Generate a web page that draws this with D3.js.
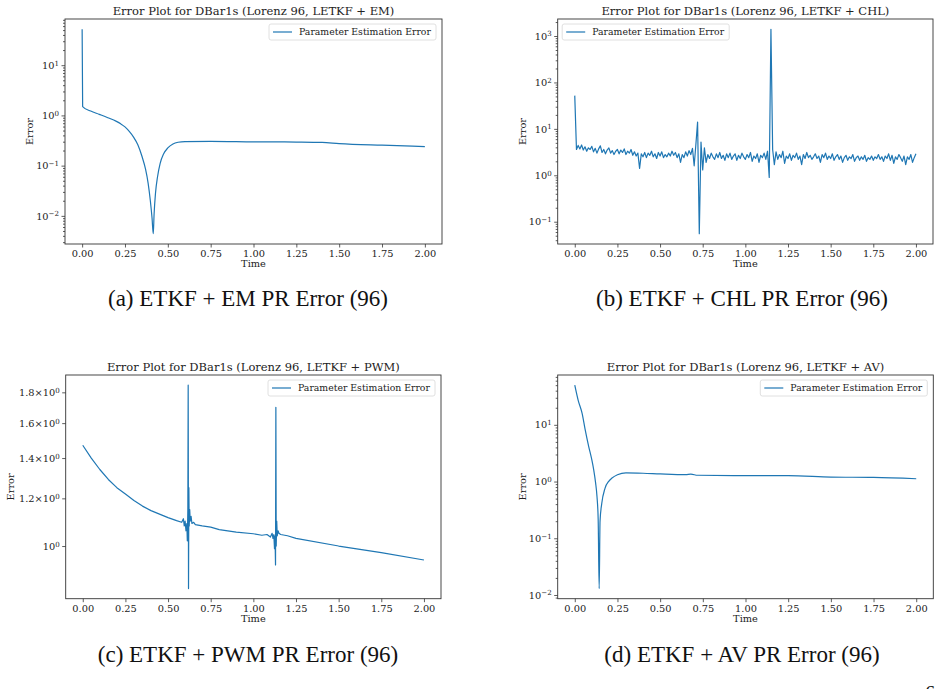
<!DOCTYPE html>
<html>
<head>
<meta charset="utf-8">
<script src="https://cdn.jsdelivr.net/npm/d3@7"></script>
<style>
  body { margin: 0; background: #fff; }
  svg { display: block; }
</style>
</head>
<body>
<div id="chart"></div>
<script>
// (a) LETKF + EM
const timeA = [0, 0.003, 0.05, 0.1, 0.15, 0.2, 0.225, 0.25, 0.275, 0.3, 0.325, 0.35, 0.37, 0.385, 0.398, 0.408, 0.415,
  0.42, 0.428, 0.44, 0.455, 0.475, 0.5, 0.53, 0.56, 0.6, 0.75, 1.0, 1.25, 1.4, 1.5, 1.75, 2.0];
const errA = [52, 1.5, 1.22, 1.05, 0.9, 0.76, 0.68, 0.59, 0.48, 0.37, 0.26, 0.15, 0.085, 0.045, 0.02, 0.009, 0.0044,
  0.011, 0.028, 0.06, 0.11, 0.17, 0.225, 0.27, 0.292, 0.302, 0.305, 0.298, 0.295, 0.29, 0.275, 0.255, 0.24];

// (b) LETKF + CHL, sampled every 0.01 from 0 to 2
const stepB = 0.01;
const errB = [
  52, 3.6, 4.4, 3.7, 4.5, 3.5, 4.1, 3.3, 3.9, 3.6,
  4.2, 3.2, 3.8, 3.0, 3.7, 4.3, 3.1, 3.6, 2.9, 3.5,
  3.9, 3.0, 3.4, 2.8, 3.3, 3.6, 2.9, 3.5, 3.1, 3.7,
  2.8, 3.3, 3.0, 3.6, 2.7, 3.2, 2.6, 3.0, 1.4, 2.9,
  2.5, 3.1, 2.4, 3.0, 2.7, 3.3, 2.5, 2.9, 2.3, 3.1,
  2.6, 3.2, 2.4, 2.8, 2.5, 3.0, 2.6, 3.3, 2.7, 3.1,
  2.4, 2.9, 1.9, 2.8, 2.4, 3.2, 2.6, 3.4, 2.8, 3.8,
  1.6, 4.6, 14, 0.055, 5.2, 1.3, 3.9, 1.9, 2.8, 2.3,
  3.0, 2.5, 2.2, 2.9, 2.4, 3.1, 2.3, 2.7, 2.1, 2.9,
  2.4, 3.0, 2.2, 2.6, 2.9, 2.1, 2.7, 2.3, 3.0, 2.5,
  2.2, 2.8, 2.4, 3.1, 2.0, 2.6, 2.3, 2.9, 1.9, 2.7,
  2.4, 3.0, 2.2, 3.3, 0.9, 1400, 3.6, 1.7, 3.2, 2.2,
  2.8, 2.4, 3.3, 1.8, 2.6, 2.3, 2.9, 2.1, 2.7, 2.4,
  3.0, 2.2, 2.6, 1.7, 2.8, 2.3, 3.1, 2.4, 2.7, 2.2,
  2.5, 2.9, 2.3, 2.6, 1.9, 2.8, 2.4, 3.0, 2.2, 2.6,
  2.3, 2.9, 2.1, 2.5, 2.8, 2.2, 2.6, 1.9, 2.4, 2.7,
  2.1, 2.5, 2.3, 2.8, 2.0, 2.4, 2.6, 2.1, 2.5, 2.2,
  2.7, 2.0, 2.4, 2.2, 2.6, 2.1, 2.5, 2.3, 2.8, 2.2,
  2.5, 2.0, 2.6, 2.3, 2.9, 2.1, 2.7, 1.8, 2.5, 2.2,
  2.8, 2.4, 2.0, 2.6, 1.7, 2.5, 2.2, 2.8, 1.9, 2.4,
  2.9
];
const timeB = errB.map((d, i) => +(i * stepB).toFixed(2));

// (c) LETKF + PWM
const timeC = [0, 0.05, 0.1, 0.15, 0.2, 0.25, 0.3, 0.35, 0.4, 0.45,
  0.5, 0.55, 0.58, 0.59, 0.595, 0.6, 0.605, 0.61, 0.613, 0.616,
  0.618, 0.62, 0.622, 0.624, 0.627, 0.63, 0.635, 0.64, 0.65, 0.66,
  0.7, 0.75, 0.8, 0.9, 1.0, 1.05, 1.08, 1.1, 1.11, 1.115,
  1.12, 1.124, 1.127, 1.13, 1.132, 1.134, 1.137, 1.14, 1.145, 1.15,
  1.16, 1.2, 1.25, 1.5, 1.75, 2.0];
const errC = [1.47, 1.40, 1.34, 1.29, 1.25, 1.22, 1.19, 1.165, 1.145, 1.13,
  1.115, 1.102, 1.095, 1.11, 1.08, 1.1, 1.06, 1.09, 1.02, 1.15,
  1.85, 0.85, 1.25, 1.08, 1.15, 1.1, 1.12, 1.09, 1.095, 1.085,
  1.08, 1.075, 1.065, 1.055, 1.048, 1.042, 1.045, 1.035, 1.05, 1.03,
  1.045, 0.99, 1.04, 0.93, 1.7, 1.0, 1.1, 1.04, 1.06, 1.05,
  1.045, 1.04, 1.03, 1.0, 0.975, 0.948];

// (d) LETKF + AV
const timeD = [0, 0.02, 0.043, 0.06, 0.082, 0.1, 0.111, 0.122, 0.13, 0.137, 0.143, 0.148, 0.158, 0.177, 0.2, 0.216, 0.25, 0.3, 0.4, 0.5, 0.65, 0.68, 0.72, 1.0, 1.25, 1.5, 1.75, 2.0];
const errD = [50, 27, 15.9, 8.5, 4.1, 2.4, 1.6, 0.95, 0.55, 0.22, 0.013, 0.2, 0.41, 0.76, 1.02, 1.14, 1.32, 1.42, 1.4, 1.36, 1.32, 1.35, 1.29, 1.27, 1.27, 1.2, 1.18, 1.12];

const xTicks = [0, 0.25, 0.5, 0.75, 1.0, 1.25, 1.5, 1.75, 2.0];
const fineTicksC = [1.2, 1.4, 1.6, 1.8];
const titles = [
  'Error Plot for DBar1s (Lorenz 96, LETKF + EM)',
  'Error Plot for DBar1s (Lorenz 96, LETKF + CHL)',
  'Error Plot for DBar1s (Lorenz 96, LETKF + PWM)',
  'Error Plot for DBar1s (Lorenz 96, LETKF + AV)'
];
const captions = [
  '(a) ETKF + EM PR Error (96)',
  '(b) ETKF + CHL PR Error (96)',
  '(c) ETKF + PWM PR Error (96)',
  '(d) ETKF + AV PR Error (96)'
];
const legendLabel = 'Parameter Estimation Error';

const color = '#1f77b4';
const font = "'DejaVu Serif', serif";

const panels = [
  { time: timeA, err: errA, box: [65, 19, 442, 244], legend: 'right', ylab: 35, smooth: true, cap: [248, 306] },
  { time: timeB, err: errB, box: [557.7, 19, 933, 244], legend: 'left', ylab: 35, smooth: false, cap: [742, 306] },
  { time: timeC, err: errC, box: [65.7, 375, 441, 598.7], legend: 'right', ylab: 55, smooth: false, fine: true, cap: [248, 662] },
  { time: timeD, err: errD, box: [557.7, 375, 933.3, 598.7], legend: 'right', ylab: 35, smooth: true, cap: [742, 662] }
];

const svg = d3.select('#chart')
  .append('svg')
  .attr('width', 940)
  .attr('height', 689)
  .style('background', '#fff');

const sup = (sel, base, exp) => {
  sel.text(null);
  sel.append('tspan').text(base);
  sel.append('tspan').attr('dy', '-0.45em').attr('font-size', '0.72em').text(exp);
};

const expText = (k) => (k < 0 ? '\u2212' + (-k) : '' + k);

const drawPanel = (p, i) => {
  const [l, t, r, b] = p.box;
  const pts = p.time.map((d, j) => [d, p.err[j]]);

  const xe = d3.extent(p.time);
  const xPad = (xe[1] - xe[0]) * 0.05;
  const x = d3.scaleLinear().domain([xe[0] - xPad, xe[1] + xPad]).range([l, r]);

  const le = d3.extent(p.err).map(Math.log10);
  const yPad = (le[1] - le[0]) * 0.05;
  const y = d3.scaleLog().domain([10 ** (le[0] - yPad), 10 ** (le[1] + yPad)]).range([b, t]);
  const [lo, hi] = y.domain();

  const g = svg.append('g')
    .attr('font-family', font)
    .attr('fill', '#222');

  // x axis
  g.append('g')
    .attr('transform', `translate(0,${b})`)
    .call(d3.axisBottom(x).tickValues(xTicks).tickSize(3.5).tickPadding(2.5).tickFormat(d3.format('.2f')));

  // y axis: majors, minors
  let majors, minors;
  if (p.fine) {
    majors = [1];
    minors = fineTicksC;
  } else {
    majors = d3.range(Math.ceil(Math.log10(lo)), Math.floor(Math.log10(hi)) + 1).map((k) => 10 ** k);
    minors = [];
    for (let n = Math.floor(Math.log10(lo)); n <= Math.floor(Math.log10(hi)); n++) {
      for (let k = 2; k <= 9; k++) {
        const v = k * 10 ** n;
        if (v >= lo && v <= hi) minors.push(v);
      }
    }
  }

  g.append('g')
    .attr('transform', `translate(${l},0)`)
    .call(d3.axisLeft(y).tickValues(minors).tickSize(p.fine ? 3.5 : 2).tickPadding(2.5).tickFormat(''))
    .call((s) => {
      if (!p.fine) return;
      s.selectAll('.tick text').each(function (d) {
        sup(d3.select(this), d3.format('.1f')(d) + '\u00d710', '0');
      });
    });

  g.append('g')
    .attr('transform', `translate(${l},0)`)
    .call(d3.axisLeft(y).tickValues(majors).tickSize(3.5).tickPadding(2.5).tickFormat(''))
    .call((s) => s.selectAll('.tick text').each(function (d) {
      sup(d3.select(this), '10', expText(Math.round(Math.log10(d))));
    }));

  g.selectAll('.domain').remove();
  g.selectAll('.tick line').attr('stroke', '#333').attr('stroke-width', 0.8);
  g.selectAll('.tick text')
    .attr('font-family', font)
    .attr('font-size', 9.8)
    .attr('fill', '#222');

  // series
  const line = d3.line()
    .x((d) => x(d[0]))
    .y((d) => y(d[1]))
    .curve(p.smooth ? d3.curveMonotoneX : d3.curveLinear);

  g.append('path')
    .datum(pts)
    .attr('fill', 'none')
    .attr('stroke', color)
    .attr('stroke-width', 1.2)
    .attr('stroke-linejoin', 'round')
    .attr('d', line);

  // frame
  g.append('rect')
    .attr('x', l).attr('y', t)
    .attr('width', r - l).attr('height', b - t)
    .attr('fill', 'none')
    .attr('stroke', '#333')
    .attr('stroke-width', 0.9);

  // title and axis labels
  g.append('text')
    .attr('x', (l + r) / 2).attr('y', t - 4.5)
    .attr('text-anchor', 'middle')
    .attr('font-size', 11.5)
    .text(titles[i]);

  g.append('text')
    .attr('x', (l + r) / 2).attr('y', b + 23)
    .attr('text-anchor', 'middle')
    .attr('font-size', 9.8)
    .text('Time');

  g.append('text')
    .attr('transform', `translate(${l - p.ylab},${(t + b) / 2}) rotate(-90)`)
    .attr('text-anchor', 'middle')
    .attr('dy', '0.35em')
    .attr('font-size', 9.8)
    .text('Error');

  // legend
  const lw = 167, lh = 16;
  const lx = p.legend === 'right' ? r - 6 - lw : l + 4.5;
  const ly = t + 5;
  const leg = g.append('g').attr('transform', `translate(${lx},${ly})`);
  leg.append('rect')
    .attr('width', lw).attr('height', lh)
    .attr('rx', 2)
    .attr('fill', '#fff')
    .attr('fill-opacity', 0.8)
    .attr('stroke', '#d8d8d8')
    .attr('stroke-width', 0.8);
  leg.append('line')
    .attr('x1', 4).attr('x2', 23)
    .attr('y1', lh / 2).attr('y2', lh / 2)
    .attr('stroke', color)
    .attr('stroke-width', 1.2);
  leg.append('text')
    .attr('x', 30).attr('y', lh / 2)
    .attr('dy', '0.35em')
    .attr('font-size', 9.3)
    .text(legendLabel);

  // caption
  svg.append('text')
    .attr('x', p.cap[0]).attr('y', p.cap[1])
    .attr('text-anchor', 'middle')
    .attr('font-family', "'Liberation Serif', serif")
    .attr('font-size', 23)
    .attr('fill', '#111')
    .text(captions[i]);
};

panels.forEach(drawPanel);

// page number peeking in at the bottom edge
svg.append('text')
  .attr('x', 925).attr('y', 700)
  .attr('font-family', "'Liberation Serif', serif")
  .attr('font-size', 20)
  .attr('fill', '#111')
  .text('6');
</script>
</body>
</html>
